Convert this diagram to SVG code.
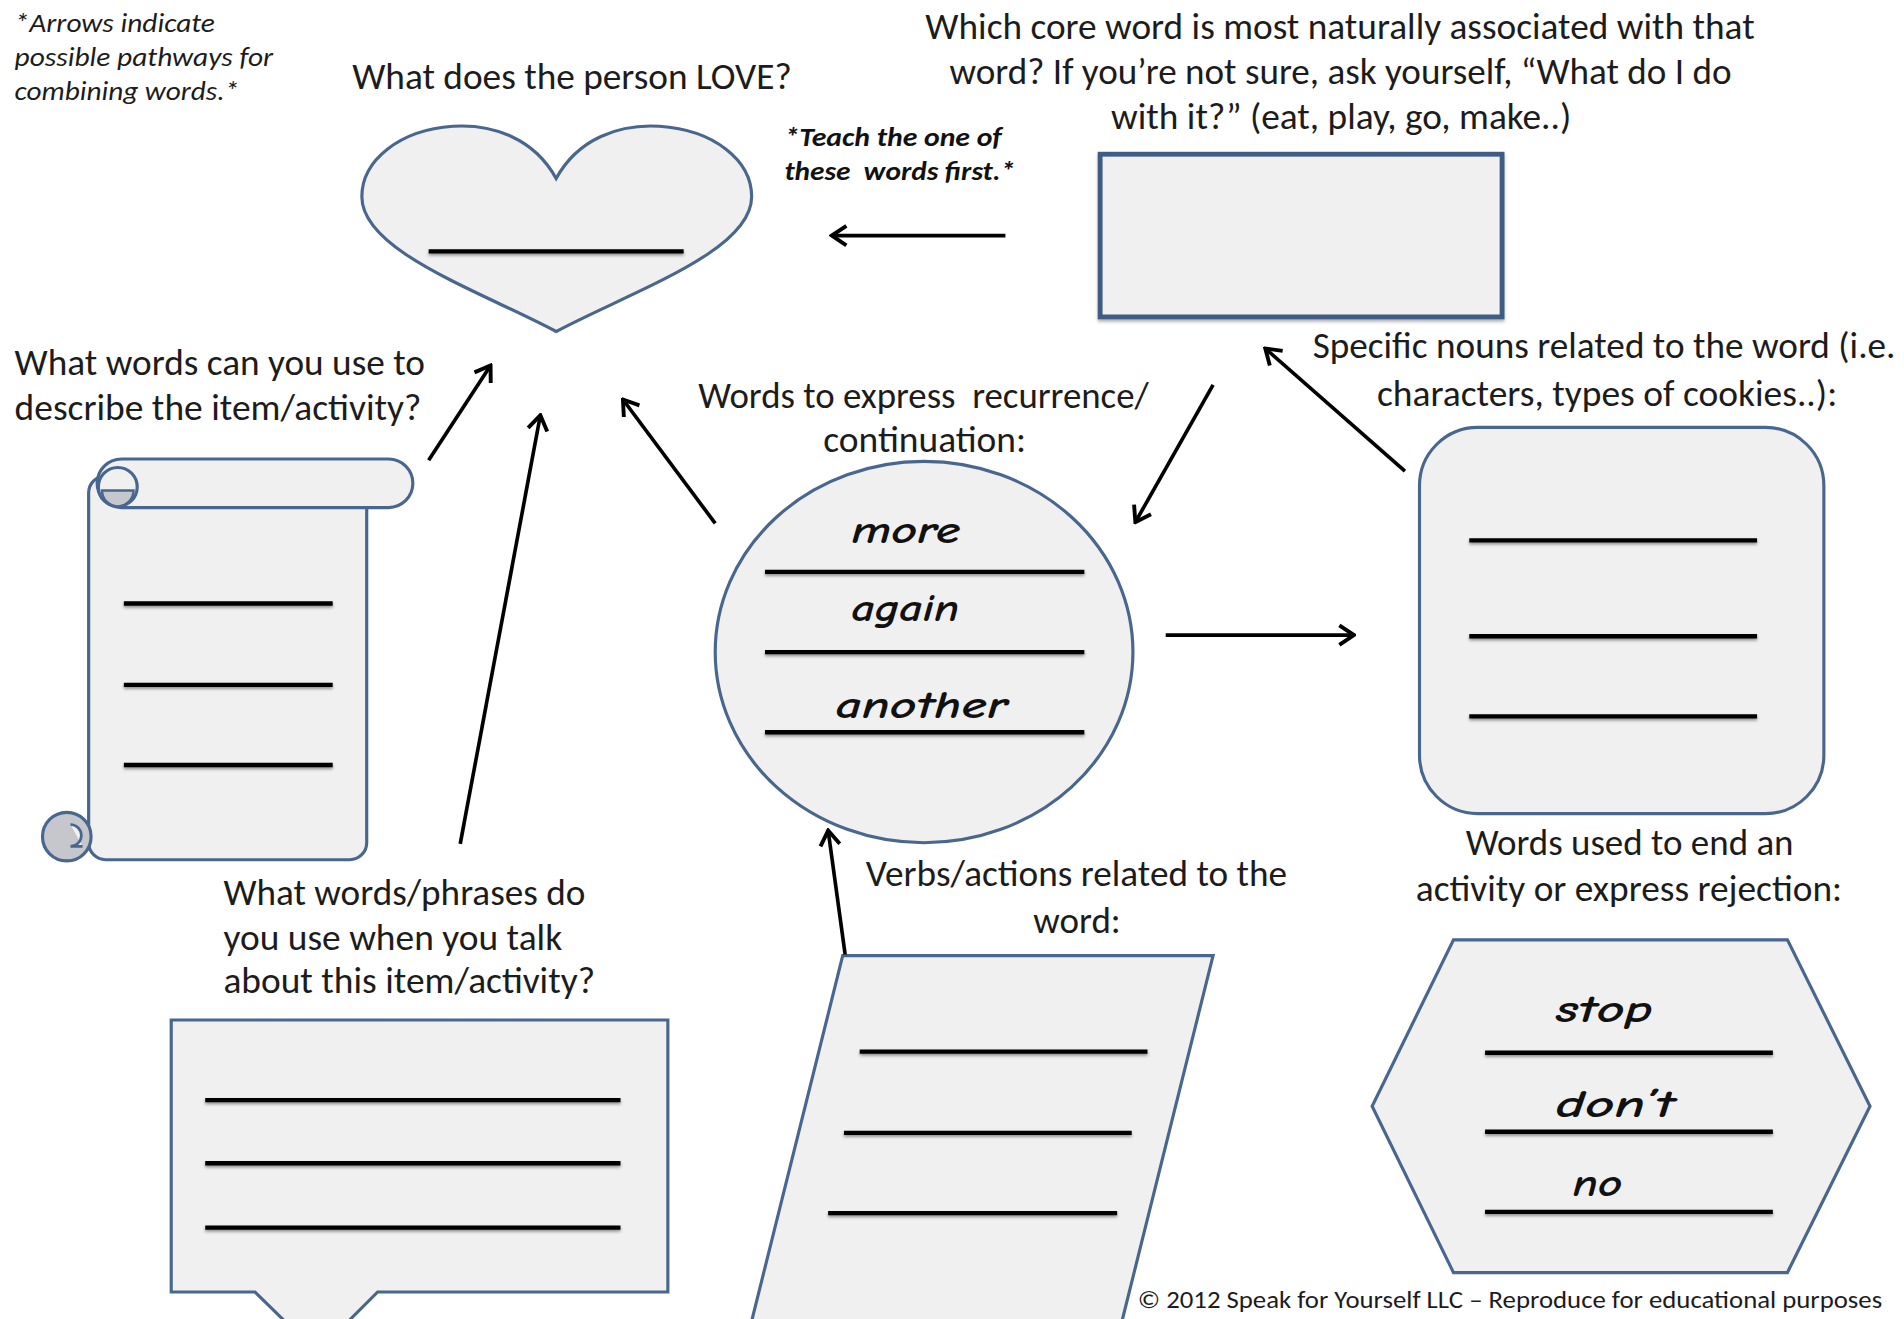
<svg xmlns="http://www.w3.org/2000/svg" width="1904" height="1319" viewBox="0 0 1904 1319">
<defs>
<style>
.lbl{font-family:Carlito,"Liberation Sans Narrow","Liberation Sans",sans-serif;font-size:30px;fill:#1c1c1c}
.note{font-family:Carlito,"Liberation Sans Narrow","Liberation Sans",sans-serif;font-style:italic;font-size:22px;fill:#1c1c1c}
.teach{font-family:Carlito,"Liberation Sans Narrow","Liberation Sans",sans-serif;font-style:italic;font-weight:bold;font-size:21px;fill:#111}
.copy{font-family:Carlito,"Liberation Sans Narrow","Liberation Sans",sans-serif;font-size:20px;fill:#1c1c1c}
.word{font-family:"Comic Sans MS","Comic Neue","DejaVu Sans",sans-serif;font-style:italic;font-weight:bold;font-size:31px;fill:#111}
.shape{fill:#f0f0f1;stroke:#48668e;stroke-width:2.6}
.curl{fill:#c6c7cc;stroke:#48668e;stroke-width:2.6}
.blank{stroke:#000;stroke-width:3.6;filter:url(#sh)}
.arrow{stroke:#000;stroke-width:3;fill:none;marker-end:url(#ah)}
</style>
<filter id="sh" filterUnits="userSpaceOnUse" x="0" y="0" width="1600" height="1100">
<feDropShadow dx="0" dy="1.6" stdDeviation="1.2" flood-color="#000" flood-opacity="0.4"/>
</filter>
<filter id="bsh" x="-5%" y="-5%" width="110%" height="115%">
<feDropShadow dx="0" dy="2" stdDeviation="1.5" flood-color="#000" flood-opacity="0.3"/>
</filter>
<marker id="ah" viewBox="0 0 16 20" refX="14" refY="10" markerWidth="16" markerHeight="20" markerUnits="userSpaceOnUse" orient="auto">
<path d="M2,2 L14,10 L2,18" fill="none" stroke="#000" stroke-width="3.2" stroke-linejoin="miter"/>
</marker>
</defs>
<rect width="1904" height="1319" fill="#ffffff"/>
<g transform="scale(1.214286)">

<g id="note-arrows">
<text class="note" x="12" y="26" textLength="165" lengthAdjust="spacingAndGlyphs">*Arrows indicate</text>
<text class="note" x="12" y="54" textLength="213" lengthAdjust="spacingAndGlyphs">possible pathways for</text>
<text class="note" x="12" y="82" textLength="185" lengthAdjust="spacingAndGlyphs">combining words.*</text>
</g>

<g id="node-love">
<text class="lbl" x="290" y="73" textLength="362" lengthAdjust="spacingAndGlyphs">What does the person LOVE?</text>
<path class="shape" d="M458,147 C476,114 510,102 543,104 C588,107 619,132 619,162 C619,207 520,240 458,273 C396,240 298,207 298,162 C298,132 329,107 373,104 C406,102 440,114 458,147 Z"/>
<line class="blank" x1="353" y1="207" x2="563" y2="207"/>
</g>

<g id="note-teach">
<text class="teach" x="646" y="120" textLength="179" lengthAdjust="spacingAndGlyphs">*Teach the one of</text>
<text class="teach" x="646" y="148" textLength="190" lengthAdjust="spacingAndGlyphs" xml:space="preserve">these  words first.*</text>
</g>

<g id="node-core">
<text class="lbl" x="762" y="32" textLength="683" lengthAdjust="spacingAndGlyphs">Which core word is most naturally associated with that</text>
<text class="lbl" x="782" y="69" textLength="644" lengthAdjust="spacingAndGlyphs">word? If you’re not sure, ask yourself, “What do I do</text>
<text class="lbl" x="915" y="106" textLength="379" lengthAdjust="spacingAndGlyphs">with it?” (eat, play, go, make..)</text>
<rect class="shape" x="906" y="127" width="331" height="134" style="stroke:#3f5c84;stroke-width:4;filter:url(#bsh)"/>
</g>

<g id="node-describe">
<text class="lbl" x="12" y="309" textLength="338" lengthAdjust="spacingAndGlyphs">What words can you use to</text>
<text class="lbl" x="12" y="346" textLength="335" lengthAdjust="spacingAndGlyphs">describe the item/activity?</text>
<rect class="shape" x="73" y="392" width="229" height="316" rx="14"/>
<circle class="curl" cx="55" cy="689" r="20"/>
<path d="M58,679 A9,9 0 0 1 58,697 L68,697" fill="#f0f0f1" stroke="#48668e" stroke-width="2.2"/>
<rect class="shape" x="80" y="378" width="260" height="40" rx="20"/>
<circle class="shape" cx="97" cy="401" r="16"/>
<path class="curl" d="M84,404 A13,13 0 0 0 110,404 Z" style="stroke-width:2"/>
<line class="blank" x1="102" y1="497" x2="274" y2="497"/>
<line class="blank" x1="102" y1="564" x2="274" y2="564"/>
<line class="blank" x1="102" y1="630" x2="274" y2="630"/>
</g>

<g id="node-recurrence">
<text class="lbl" x="575" y="336" textLength="371" lengthAdjust="spacingAndGlyphs" xml:space="preserve">Words to express  recurrence/</text>
<text class="lbl" x="678" y="372" textLength="167" lengthAdjust="spacingAndGlyphs">continuation:</text>
<ellipse class="shape" cx="761" cy="537" rx="172" ry="157"/>
<text class="word" x="701" y="447" textLength="90" lengthAdjust="spacingAndGlyphs">more</text>
<line class="blank" x1="630" y1="471" x2="893" y2="471"/>
<text class="word" x="701" y="511" textLength="89" lengthAdjust="spacingAndGlyphs">again</text>
<line class="blank" x1="630" y1="537" x2="893" y2="537"/>
<text class="word" x="688" y="591" textLength="142" lengthAdjust="spacingAndGlyphs">another</text>
<line class="blank" x1="630" y1="603" x2="893" y2="603"/>
</g>

<g id="node-nouns">
<text class="lbl" x="1081" y="295" textLength="480" lengthAdjust="spacingAndGlyphs">Specific nouns related to the word (i.e.</text>
<text class="lbl" x="1134" y="334" textLength="379" lengthAdjust="spacingAndGlyphs">characters, types of cookies..):</text>
<rect class="shape" x="1169" y="352" width="333" height="318" rx="48"/>
<line class="blank" x1="1210" y1="445" x2="1447" y2="445"/>
<line class="blank" x1="1210" y1="524" x2="1447" y2="524"/>
<line class="blank" x1="1210" y1="590" x2="1447" y2="590"/>
</g>

<g id="node-phrases">
<text class="lbl" x="184" y="745" textLength="298" lengthAdjust="spacingAndGlyphs">What words/phrases do</text>
<text class="lbl" x="184" y="782" textLength="279" lengthAdjust="spacingAndGlyphs">you use when you talk</text>
<text class="lbl" x="184" y="818" textLength="306" lengthAdjust="spacingAndGlyphs">about this item/activity?</text>
<path class="shape" d="M141,840 H550 V1064 H311 L261,1114 L210,1064 H141 Z"/>
<line class="blank" x1="169" y1="906" x2="511" y2="906"/>
<line class="blank" x1="169" y1="958" x2="511" y2="958"/>
<line class="blank" x1="169" y1="1011" x2="511" y2="1011"/>
</g>

<g id="node-verbs">
<text class="lbl" x="713" y="730" textLength="347" lengthAdjust="spacingAndGlyphs">Verbs/actions related to the</text>
<text class="lbl" x="851" y="768" textLength="72" lengthAdjust="spacingAndGlyphs">word:</text>
<path class="shape" d="M694,787 H999 L921,1100 H616 Z"/>
<line class="blank" x1="708" y1="866" x2="945" y2="866"/>
<line class="blank" x1="695" y1="933" x2="932" y2="933"/>
<line class="blank" x1="682" y1="999" x2="920" y2="999"/>
</g>

<g id="node-end">
<text class="lbl" x="1207" y="704" textLength="270" lengthAdjust="spacingAndGlyphs">Words used to end an</text>
<text class="lbl" x="1166" y="742" textLength="351" lengthAdjust="spacingAndGlyphs">activity or express rejection:</text>
<path class="shape" d="M1197,774 H1472 L1540,911 L1472,1048 H1197 L1130,911 Z"/>
<text class="word" x="1281" y="842" textLength="80" lengthAdjust="spacingAndGlyphs">stop</text>
<line class="blank" x1="1223" y1="867" x2="1460" y2="867"/>
<text class="word" x="1281" y="920" textLength="98" lengthAdjust="spacingAndGlyphs">don’t</text>
<line class="blank" x1="1223" y1="932" x2="1460" y2="932"/>
<text class="word" x="1295" y="985" textLength="41" lengthAdjust="spacingAndGlyphs">no</text>
<line class="blank" x1="1223" y1="998" x2="1460" y2="998"/>
</g>

<g id="connectors">
<line class="arrow" x1="828" y1="194" x2="685" y2="194"/>
<line class="arrow" x1="353" y1="379" x2="404" y2="301"/>
<line class="arrow" x1="379" y1="695" x2="445" y2="342"/>
<line class="arrow" x1="589" y1="431" x2="513" y2="329"/>
<line class="arrow" x1="999" y1="317" x2="935" y2="430"/>
<line class="arrow" x1="1157" y1="388" x2="1042" y2="287"/>
<line class="arrow" x1="960" y1="523" x2="1115" y2="523"/>
<line class="arrow" x1="696" y1="786" x2="682" y2="684"/>
</g>

<g id="footer">
<text class="copy" x="937" y="1077" textLength="613" lengthAdjust="spacingAndGlyphs">© 2012 Speak for Yourself LLC – Reproduce for educational purposes</text>
</g>
</g>
</svg>
